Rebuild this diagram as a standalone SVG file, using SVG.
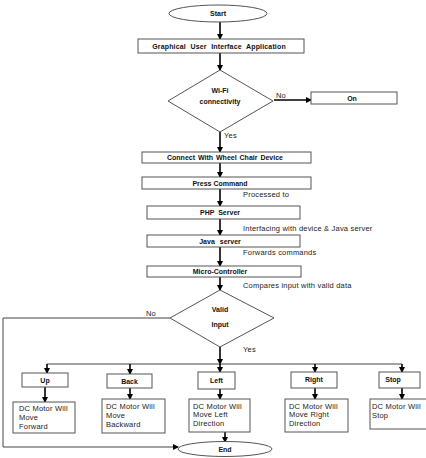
<svg xmlns="http://www.w3.org/2000/svg" width="426" height="458" viewBox="0 0 426 458">
<defs>
<marker id="ah" markerWidth="6" markerHeight="6" refX="5" refY="3" orient="auto" markerUnits="userSpaceOnUse">
<path d="M0,0 L6,3 L0,6 Z" fill="#000"/>
</marker>
<style>
.box{fill:#fff;stroke:#555;stroke-width:1}
.t{font-family:"Liberation Sans",Arial,sans-serif;font-size:7px;font-weight:bold;fill:#111;text-anchor:middle}
.l{font-family:"Liberation Sans",Arial,sans-serif;font-size:7.5px;letter-spacing:0.2px;fill:#222}
.d{font-family:"Liberation Sans",Arial,sans-serif;font-size:7.5px;letter-spacing:0.2px;fill:#222}
.a{fill:none;stroke:#000;stroke-width:1.6;marker-end:url(#ah)}
.thin{fill:none;stroke:#444;stroke-width:1}
</style>
</defs>
<rect width="426" height="458" fill="#fff"/>
<g id="connectors">
<line class="a" x1="220" y1="22" x2="220" y2="39"/>
<line class="a" x1="220" y1="53" x2="220" y2="70"/>
<line class="a" x1="274" y1="100" x2="311" y2="100"/>
<line class="a" x1="220" y1="132" x2="220" y2="152"/>
<line class="a" x1="220" y1="163" x2="220" y2="177"/>
<line class="a" x1="220" y1="189" x2="220" y2="206"/>
<line class="a" x1="220" y1="219" x2="220" y2="235"/>
<line class="a" x1="220" y1="247" x2="220" y2="266"/>
<line class="a" x1="220" y1="277" x2="220" y2="290"/>
<line class="a" x1="220" y1="347" x2="220" y2="364"/>
<polyline class="thin" points="47,364 402,364"/>
<line class="a" x1="47" y1="364" x2="47" y2="373"/>
<line class="a" x1="130" y1="364" x2="130" y2="374"/>
<line class="a" x1="220" y1="364" x2="220" y2="372"/>
<line class="a" x1="315" y1="364" x2="315" y2="372"/>
<line class="a" x1="402" y1="364" x2="402" y2="372"/>
<line class="a" x1="45" y1="387" x2="45" y2="402"/>
<line class="a" x1="130" y1="388" x2="130" y2="399"/>
<line class="a" x1="220" y1="389" x2="220" y2="399"/>
<line class="a" x1="315" y1="388" x2="315" y2="399"/>
<line class="a" x1="402" y1="388" x2="402" y2="399"/>
<line class="a" x1="225" y1="432" x2="225" y2="442"/>
<polyline class="thin" points="170,318 3,318 3,447" />
<line x1="3" y1="447" x2="178" y2="447" stroke="#444" stroke-width="1" marker-end="url(#ah)"/>
<text class="l" x="276" y="98">No</text>
<text class="l" x="224" y="138">Yes</text>
<text class="l" x="243" y="196.5">Processed  to</text>
<text class="l" x="243" y="230.5">Interfacing with device &amp; Java server</text>
<text class="l" x="243" y="254.5">Forwards commands</text>
<text class="l" x="243" y="287.5">Compares input with valid data</text>
<text class="l" x="146" y="315.5">No</text>
<text class="l" x="243" y="351.5">Yes</text>
</g>
<g id="start"><ellipse cx="218" cy="13.5" rx="49" ry="8.5" class="box"/><text class="t" x="218" y="16" font-size="7.5">Start</text></g>
<g id="gui"><rect x="138" y="39" width="166" height="14" class="box"/><text class="t" x="219" y="48.5" word-spacing="2.5" letter-spacing="0.15">Graphical User Interface Application</text></g>
<g id="wifi"><polygon points="220,70 273,101 220,132 168,101" class="box"/><text class="t" x="220" y="93">Wi-Fi</text><text class="t" x="220" y="104">connectivity</text></g>
<g id="on"><rect x="311" y="92" width="86" height="12" class="box"/><text class="t" x="352" y="100.5">On</text></g>
<g id="connect"><rect x="142" y="152" width="169" height="11" class="box"/><text class="t" x="225" y="160" word-spacing="1">Connect With Wheel Chair Device</text></g>
<g id="press"><rect x="142" y="177" width="169" height="12" class="box"/><text class="t" x="220" y="185.5">Press Command</text></g>
<g id="php"><rect x="147" y="206" width="153" height="13" class="box"/><text class="t" x="220" y="215" word-spacing="2">PHP Server</text></g>
<g id="java"><rect x="147" y="235" width="153" height="12" class="box"/><text class="t" x="220" y="243.5" word-spacing="3">Java server</text></g>
<g id="micro"><rect x="147" y="266" width="154" height="11" class="box"/><text class="t" x="220" y="274">Micro-Controller</text></g>
<g id="valid"><polygon points="220,290 274,318 220,347 170,318" class="box"/><text class="t" x="220" y="311.5">Valid</text><text class="t" x="220" y="326.5">Input</text></g>
<g id="up"><rect x="22" y="373" width="46" height="14" class="box"/><text class="t" x="45" y="382.5">Up</text></g>
<g id="back"><rect x="107" y="374" width="45" height="14" class="box"/><text class="t" x="129.5" y="383.5">Back</text></g>
<g id="left"><rect x="198" y="372" width="37" height="17" class="box"/><text class="t" x="216.5" y="382.5">Left</text></g>
<g id="right"><rect x="291" y="372" width="46" height="16" class="box"/><text class="t" x="314" y="382" font-weight="normal">Right</text></g>
<g id="stop"><rect x="379" y="372" width="41" height="16" class="box"/><text class="t" x="393" y="382" font-weight="normal">Stop</text></g>
<g id="up-d"><rect x="13" y="402" width="62" height="31" class="box"/><text class="d" x="19" y="411">DC Motor Will</text><text class="d" x="19" y="420">Move</text><text class="d" x="19" y="429">Forward</text></g>
<g id="back-d"><rect x="102" y="399" width="63" height="34" class="box"/><text class="d" x="106" y="409">DC Motor Will</text><text class="d" x="106" y="418">Move</text><text class="d" x="106" y="427">Backward</text></g>
<g id="left-d"><rect x="189" y="399" width="61" height="33" class="box"/><text class="d" x="193" y="408.5">DC Motor Will</text><text class="d" x="193" y="417">Move Left</text><text class="d" x="193" y="425.5">Direction</text></g>
<g id="right-d"><rect x="285" y="399" width="63" height="33" class="box"/><text class="d" x="289" y="408.5">DC Motor Will</text><text class="d" x="289" y="417">Move Right</text><text class="d" x="289" y="425.5">Direction</text></g>
<g id="stop-d"><rect x="370" y="399" width="58" height="30" class="box"/><text class="d" x="372" y="408.5">DC Motor Will</text><text class="d" x="372" y="417.5">Stop</text></g>
<g id="end"><ellipse cx="225" cy="449" rx="47" ry="7.5" class="box"/><text class="t" x="225" y="452" font-weight="normal">End</text></g>
</svg>
